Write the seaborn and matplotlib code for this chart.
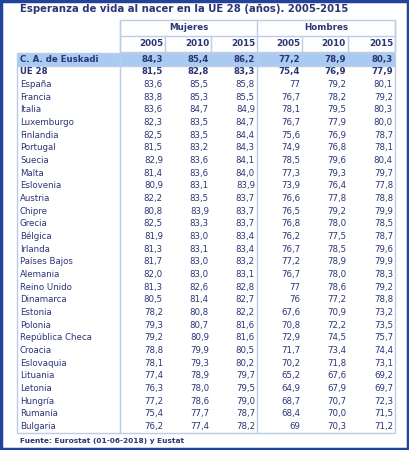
import matplotlib.pyplot as plt
import seaborn as sns

sns.set_style("white")
plt.rcParams['font.family'] = ['DejaVu Sans']

title = "Esperanza de vida al nacer en la UE 28 (años). 2005-2015"
source = "Fuente: Eurostat (01-06-2018) y Eustat"
groups = ["Mujeres", "Hombres"]
years = ["2005", "2010", "2015"]
regions = ["C. A. de Euskadi", "UE 28", "España", "Francia", "Italia", "Luxemburgo",
           "Finlandia", "Portugal", "Suecia", "Malta", "Eslovenia", "Austria", "Chipre",
           "Grecia", "Bélgica", "Irlanda", "Países Bajos", "Alemania", "Reino Unido",
           "Dinamarca", "Estonia", "Polonia", "República Checa", "Croacia", "Eslovaquia",
           "Lituania", "Letonia", "Hungría", "Rumanía", "Bulgaria"]
mujeres = [
    ["84,3", "85,4", "86,2"], ["81,5", "82,8", "83,3"], ["83,6", "85,5", "85,8"],
    ["83,8", "85,3", "85,5"], ["83,6", "84,7", "84,9"], ["82,3", "83,5", "84,7"],
    ["82,5", "83,5", "84,4"], ["81,5", "83,2", "84,3"], ["82,9", "83,6", "84,1"],
    ["81,4", "83,6", "84,0"], ["80,9", "83,1", "83,9"], ["82,2", "83,5", "83,7"],
    ["80,8", "83,9", "83,7"], ["82,5", "83,3", "83,7"], ["81,9", "83,0", "83,4"],
    ["81,3", "83,1", "83,4"], ["81,7", "83,0", "83,2"], ["82,0", "83,0", "83,1"],
    ["81,3", "82,6", "82,8"], ["80,5", "81,4", "82,7"], ["78,2", "80,8", "82,2"],
    ["79,3", "80,7", "81,6"], ["79,2", "80,9", "81,6"], ["78,8", "79,9", "80,5"],
    ["78,1", "79,3", "80,2"], ["77,4", "78,9", "79,7"], ["76,3", "78,0", "79,5"],
    ["77,2", "78,6", "79,0"], ["75,4", "77,7", "78,7"], ["76,2", "77,4", "78,2"]]
hombres = [
    ["77,2", "78,9", "80,3"], ["75,4", "76,9", "77,9"], ["77", "79,2", "80,1"],
    ["76,7", "78,2", "79,2"], ["78,1", "79,5", "80,3"], ["76,7", "77,9", "80,0"],
    ["75,6", "76,9", "78,7"], ["74,9", "76,8", "78,1"], ["78,5", "79,6", "80,4"],
    ["77,3", "79,3", "79,7"], ["73,9", "76,4", "77,8"], ["76,6", "77,8", "78,8"],
    ["76,5", "79,2", "79,9"], ["76,8", "78,0", "78,5"], ["76,2", "77,5", "78,7"],
    ["76,7", "78,5", "79,6"], ["77,2", "78,9", "79,9"], ["76,7", "78,0", "78,3"],
    ["77", "78,6", "79,2"], ["76", "77,2", "78,8"], ["67,6", "70,9", "73,2"],
    ["70,8", "72,2", "73,5"], ["72,9", "74,5", "75,7"], ["71,7", "73,4", "74,4"],
    ["70,2", "71,8", "73,1"], ["65,2", "67,6", "69,2"], ["64,9", "67,9", "69,7"],
    ["68,7", "70,7", "72,3"], ["68,4", "70,0", "71,5"], ["69", "70,3", "71,2"]]

navy = "#2b3576"
grid = "#b9cde6"
fig = plt.figure(figsize=(4.09, 4.5), dpi=100)
ax = fig.add_axes([0, 0, 1, 1])
ax.set_xlim(0, 409)
ax.set_ylim(450, 0)
ax.axis("off")

# outer frame
ax.add_patch(plt.Rectangle((1, 1), 407, 448, fill=False, ec="#23429a", lw=2.5))
ax.text(20, 9, title, color=navy, fontsize=7.3, fontweight="bold", va="center")

left, mid, right = 17, 120, 395
col_edges = [120, 165, 211, 257, 302, 348, 395]
# header boxes
ax.add_patch(plt.Rectangle((mid, 20), right - mid, 32, fill=False, ec=grid, lw=1))
ax.plot([mid, right], [36, 36], color=grid, lw=1)
for x in col_edges:
    y0 = 20 if x in (120, 257, 395) else 36
    ax.plot([x, x], [y0, 52], color=grid, lw=1)
for g, name in enumerate(groups):
    ax.text((col_edges[3 * g] + col_edges[3 * g + 3]) / 2, 28, name, color=navy,
            fontsize=6.3, fontweight="bold", ha="center", va="center")
    for j, yr in enumerate(years):
        ax.text(col_edges[3 * g + j + 1] - 2, 44, yr, color=navy, fontsize=6.3,
                fontweight="bold", ha="right", va="center")

step = 12.66
y_top = 52.5
ax.add_patch(plt.Rectangle((left, y_top), right - left, step + 1, color="#a9cbf2", lw=0))
ax.plot([left, right], [y_top + step + 1, y_top + step + 1], color=grid, lw=1)
bottom = y_top + step * len(regions) + 1
ax.add_patch(plt.Rectangle((left, y_top), right - left, bottom - y_top, fill=False, ec=grid, lw=1))
for x in (mid, 257):
    ax.plot([x, x], [y_top, bottom], color=grid, lw=1)

for i, reg in enumerate(regions):
    y = y_top + step * (i + 0.5) + 0.5
    bold = "bold" if i < 2 else "normal"
    ax.text(20, y, reg, color=navy, fontsize=6.2, fontweight=bold, va="center")
    vals = mujeres[i] + hombres[i]
    for j, v in enumerate(vals):
        ax.text(col_edges[j + 1] - 2, y, v, color=navy, fontsize=6.2,
                fontweight=bold, ha="right", va="center")

ax.text(20, bottom + 8, source, color=navy, fontsize=5.3, fontweight="bold", va="center")
fig.savefig("out.png", dpi=100)
